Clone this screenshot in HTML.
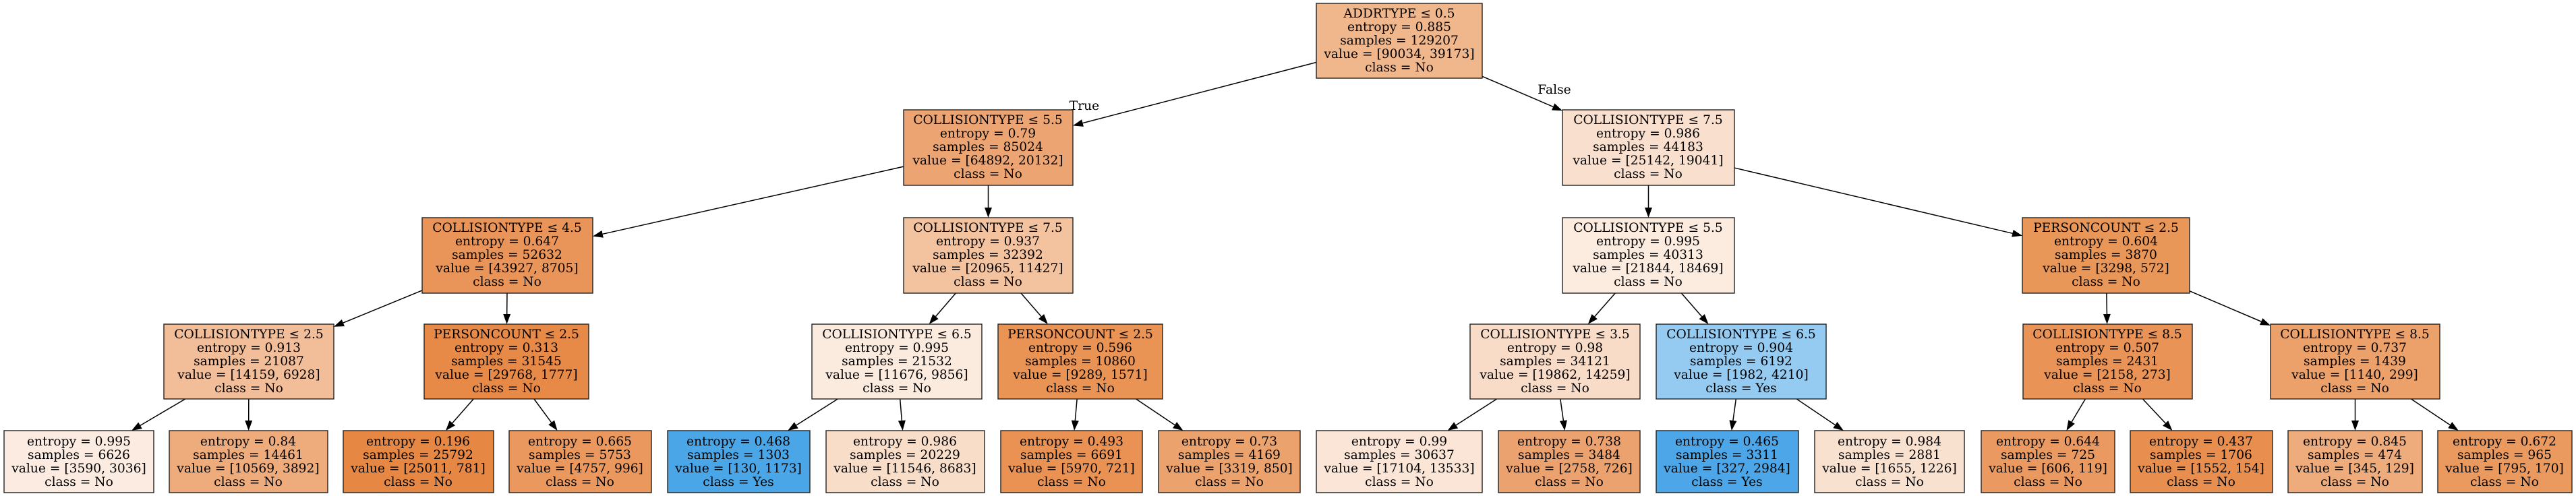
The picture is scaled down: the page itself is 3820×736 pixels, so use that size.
<!DOCTYPE html>
<html><head><meta charset="utf-8"><style>
html,body{margin:0;padding:0;background:#fff;}
svg{display:block;}
text{font-family:"DejaVu Serif","Liberation Serif",serif;font-size:18.67px;text-anchor:middle;fill:#000;}
rect{stroke:#222;stroke-width:1.4;}
</style></head><body>
<svg id="s" width="3820" height="736" xmlns="http://www.w3.org/2000/svg">
<g id="edges"></g>
<text x="1608" y="163">True</text>
<text x="2305" y="139">False</text>

<rect x="1952" y="5" width="246" height="111" fill="#f0b78d"/>
<text x="2075" y="26">ADDRTYPE ≤ 0.5</text><text x="2075" y="46">entropy = 0.885</text><text x="2075" y="66">samples = 129207</text><text x="2075" y="86">value = [90034, 39173]</text><text x="2075" y="106">class = No</text>

<rect x="1340" y="163" width="251" height="112" fill="#eca572"/>
<text x="1465" y="184">COLLISIONTYPE ≤ 5.5</text><text x="1465" y="204">entropy = 0.79</text><text x="1465" y="224">samples = 85024</text><text x="1465" y="244">value = [64892, 20132]</text><text x="1465" y="264">class = No</text>

<rect x="2317" y="163" width="255" height="112" fill="#f9e0ce"/>
<text x="2444" y="184">COLLISIONTYPE ≤ 7.5</text><text x="2444" y="204">entropy = 0.986</text><text x="2444" y="224">samples = 44183</text><text x="2444" y="244">value = [25142, 19041]</text><text x="2444" y="264">class = No</text>

<rect x="626" y="323" width="253" height="112" fill="#e99458"/>
<text x="752" y="344">COLLISIONTYPE ≤ 4.5</text><text x="752" y="364">entropy = 0.647</text><text x="752" y="384">samples = 52632</text><text x="752" y="404">value = [43927, 8705]</text><text x="752" y="424">class = No</text>

<rect x="1340" y="323" width="251" height="112" fill="#f3c3a0"/>
<text x="1465" y="344">COLLISIONTYPE ≤ 7.5</text><text x="1465" y="364">entropy = 0.937</text><text x="1465" y="384">samples = 32392</text><text x="1465" y="404">value = [20965, 11427]</text><text x="1465" y="424">class = No</text>

<rect x="2317" y="323" width="255" height="112" fill="#fcebdf"/>
<text x="2444" y="344">COLLISIONTYPE ≤ 5.5</text><text x="2444" y="364">entropy = 0.995</text><text x="2444" y="384">samples = 40313</text><text x="2444" y="404">value = [21844, 18469]</text><text x="2444" y="424">class = No</text>

<rect x="2999" y="323" width="248" height="112" fill="#e99659"/>
<text x="3123" y="344">PERSONCOUNT ≤ 2.5</text><text x="3123" y="364">entropy = 0.604</text><text x="3123" y="384">samples = 3870</text><text x="3123" y="404">value = [3298, 572]</text><text x="3123" y="424">class = No</text>

<rect x="243" y="481" width="252" height="111" fill="#f2be99"/>
<text x="369" y="502">COLLISIONTYPE ≤ 2.5</text><text x="369" y="522">entropy = 0.913</text><text x="369" y="542">samples = 21087</text><text x="369" y="562">value = [14159, 6928]</text><text x="369" y="582">class = No</text>

<rect x="629" y="481" width="244" height="111" fill="#e78a48"/>
<text x="751" y="502">PERSONCOUNT ≤ 2.5</text><text x="751" y="522">entropy = 0.313</text><text x="751" y="542">samples = 31545</text><text x="751" y="562">value = [29768, 1777]</text><text x="751" y="582">class = No</text>

<rect x="1204" y="481" width="252" height="111" fill="#fbeade"/>
<text x="1330" y="502">COLLISIONTYPE ≤ 6.5</text><text x="1330" y="522">entropy = 0.995</text><text x="1330" y="542">samples = 21532</text><text x="1330" y="562">value = [11676, 9856]</text><text x="1330" y="582">class = No</text>

<rect x="1480" y="481" width="244" height="111" fill="#e99355"/>
<text x="1602" y="502">PERSONCOUNT ≤ 2.5</text><text x="1602" y="522">entropy = 0.596</text><text x="1602" y="542">samples = 10860</text><text x="1602" y="562">value = [9289, 1571]</text><text x="1602" y="582">class = No</text>

<rect x="2180" y="481" width="252" height="111" fill="#f8dcc8"/>
<text x="2306" y="502">COLLISIONTYPE ≤ 3.5</text><text x="2306" y="522">entropy = 0.98</text><text x="2306" y="542">samples = 34121</text><text x="2306" y="562">value = [19862, 14259]</text><text x="2306" y="582">class = No</text>

<rect x="2456" y="481" width="252" height="111" fill="#95cbf1"/>
<text x="2582" y="502">COLLISIONTYPE ≤ 6.5</text><text x="2582" y="522">entropy = 0.904</text><text x="2582" y="542">samples = 6192</text><text x="2582" y="562">value = [1982, 4210]</text><text x="2582" y="582">class = Yes</text>

<rect x="3000" y="481" width="251" height="111" fill="#e99456"/>
<text x="3125" y="502">COLLISIONTYPE ≤ 8.5</text><text x="3125" y="522">entropy = 0.507</text><text x="3125" y="542">samples = 2431</text><text x="3125" y="562">value = [2158, 273]</text><text x="3125" y="582">class = No</text>

<rect x="3367" y="481" width="251" height="111" fill="#eca16b"/>
<text x="3492" y="502">COLLISIONTYPE ≤ 8.5</text><text x="3492" y="522">entropy = 0.737</text><text x="3492" y="542">samples = 1439</text><text x="3492" y="562">value = [1140, 299]</text><text x="3492" y="582">class = No</text>

<rect x="6" y="639" width="222" height="92" fill="#fbebe0"/>
<text x="117" y="661">entropy = 0.995</text><text x="117" y="681">samples = 6626</text><text x="117" y="701">value = [3590, 3036]</text><text x="117" y="721">class = No</text>

<rect x="251" y="639" width="235" height="92" fill="#eeab7b"/>
<text x="368" y="661">entropy = 0.84</text><text x="368" y="681">samples = 14461</text><text x="368" y="701">value = [10569, 3892]</text><text x="368" y="721">class = No</text>

<rect x="509" y="639" width="223" height="92" fill="#e68743"/>
<text x="620" y="661">entropy = 0.196</text><text x="620" y="681">samples = 25792</text><text x="620" y="701">value = [25011, 781]</text><text x="620" y="721">class = No</text>

<rect x="755" y="639" width="211" height="92" fill="#ea985d"/>
<text x="860" y="661">entropy = 0.665</text><text x="860" y="681">samples = 5753</text><text x="860" y="701">value = [4757, 996]</text><text x="860" y="721">class = No</text>

<rect x="990" y="639" width="211" height="92" fill="#4ba6e7"/>
<text x="1095" y="661">entropy = 0.468</text><text x="1095" y="681">samples = 1303</text><text x="1095" y="701">value = [130, 1173]</text><text x="1095" y="721">class = Yes</text>

<rect x="1225" y="639" width="235" height="92" fill="#f8ddc9"/>
<text x="1342" y="661">entropy = 0.986</text><text x="1342" y="681">samples = 20229</text><text x="1342" y="701">value = [11546, 8683]</text><text x="1342" y="721">class = No</text>

<rect x="1484" y="639" width="210" height="92" fill="#e99254"/>
<text x="1589" y="661">entropy = 0.493</text><text x="1589" y="681">samples = 6691</text><text x="1589" y="701">value = [5970, 721]</text><text x="1589" y="721">class = No</text>

<rect x="1718" y="639" width="210" height="92" fill="#eca26d"/>
<text x="1823" y="661">entropy = 0.73</text><text x="1823" y="681">samples = 4169</text><text x="1823" y="701">value = [3319, 850]</text><text x="1823" y="721">class = No</text>

<rect x="1952" y="639" width="246" height="92" fill="#fae5d6"/>
<text x="2075" y="661">entropy = 0.99</text><text x="2075" y="681">samples = 30637</text><text x="2075" y="701">value = [17104, 13533]</text><text x="2075" y="721">class = No</text>

<rect x="2222" y="639" width="210" height="92" fill="#eca26e"/>
<text x="2327" y="661">entropy = 0.738</text><text x="2327" y="681">samples = 3484</text><text x="2327" y="701">value = [2758, 726]</text><text x="2327" y="721">class = No</text>

<rect x="2456" y="639" width="211" height="92" fill="#4ca6e7"/>
<text x="2561" y="661">entropy = 0.465</text><text x="2561" y="681">samples = 3311</text><text x="2561" y="701">value = [327, 2984]</text><text x="2561" y="721">class = Yes</text>

<rect x="2691" y="639" width="222" height="92" fill="#f9e1d0"/>
<text x="2802" y="661">entropy = 0.984</text><text x="2802" y="681">samples = 2881</text><text x="2802" y="701">value = [1655, 1226]</text><text x="2802" y="721">class = No</text>

<rect x="2938" y="639" width="198" height="92" fill="#ea9a60"/>
<text x="3037" y="661">entropy = 0.644</text><text x="3037" y="681">samples = 725</text><text x="3037" y="701">value = [606, 119]</text><text x="3037" y="721">class = No</text>

<rect x="3159" y="639" width="211" height="92" fill="#e88f4f"/>
<text x="3264" y="661">entropy = 0.437</text><text x="3264" y="681">samples = 1706</text><text x="3264" y="701">value = [1552, 154]</text><text x="3264" y="721">class = No</text>

<rect x="3393" y="639" width="199" height="92" fill="#eeab7b"/>
<text x="3492" y="661">entropy = 0.845</text><text x="3492" y="681">samples = 474</text><text x="3492" y="701">value = [345, 129]</text><text x="3492" y="721">class = No</text>

<rect x="3615" y="639" width="199" height="92" fill="#ea9a5f"/>
<text x="3714" y="661">entropy = 0.672</text><text x="3714" y="681">samples = 965</text><text x="3714" y="701">value = [795, 170]</text><text x="3714" y="721">class = No</text>
</svg>
<script>
(function(){
var N=[[1952,2198,5,116],[1340,1591,163,275],[2317,2572,163,275],[626,879,323,435],[1340,1591,323,435],[2317,2572,323,435],[2999,3247,323,435],
[243,495,481,592],[629,873,481,592],[1204,1456,481,592],[1480,1724,481,592],[2180,2432,481,592],[2456,2708,481,592],[3000,3251,481,592],[3367,3618,481,592],
[6,228,639,731],[251,486,639,731],[509,732,639,731],[755,966,639,731],[990,1201,639,731],[1225,1460,639,731],[1484,1694,639,731],[1718,1928,639,731],[1952,2198,639,731],[2222,2432,639,731],[2456,2667,639,731],[2691,2913,639,731],[2938,3136,639,731],[3159,3370,639,731],[3393,3592,639,731],[3615,3814,639,731]];
var E=[[0,1],[0,2],[1,3],[1,4],[2,5],[2,6],[3,7],[3,8],[4,9],[4,10],[5,11],[5,12],[6,13],[6,14]];
for(var i=7;i<=14;i++){E.push([i,15+(i-7)*2]);E.push([i,16+(i-7)*2]);}
function c(n){return [(n[0]+n[1])/2,(n[2]+n[3])/2];}
function clip(n,p,q){var dx=q[0]-p[0],dy=q[1]-p[1],t=1;var hw=(n[1]-n[0])/2,hh=(n[3]-n[2])/2;
if(dx!==0)t=Math.min(t,hw/Math.abs(dx));if(dy!==0)t=Math.min(t,hh/Math.abs(dy));return [p[0]+dx*t,p[1]+dy*t];}
var g=document.getElementById('edges'),s='';
E.forEach(function(e){var a=N[e[0]],b=N[e[1]],pa=c(a),pb=c(b);
var st=clip(a,pa,pb),en=clip(b,pb,pa);var dx=en[0]-st[0],dy=en[1]-st[1],L=Math.sqrt(dx*dx+dy*dy),ux=dx/L,uy=dy/L;
var bx=en[0]-ux*15,by=en[1]-uy*15;
s+='<line x1="'+st[0]+'" y1="'+st[1]+'" x2="'+bx+'" y2="'+by+'" stroke="#000" stroke-width="1.5"/>';
s+='<polygon points="'+en[0]+','+en[1]+' '+(bx-uy*5.5)+','+(by+ux*5.5)+' '+(bx+uy*5.5)+','+(by-ux*5.5)+'" fill="#000"/>';});
g.innerHTML=s;})();
</script>
</body></html>
